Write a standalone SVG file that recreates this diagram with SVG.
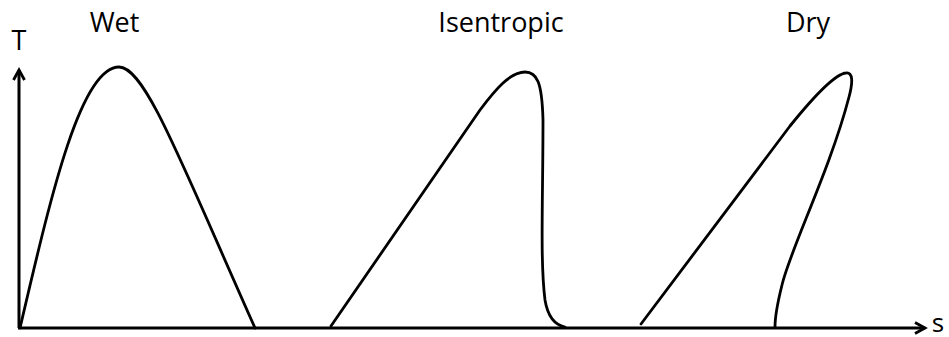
<svg xmlns="http://www.w3.org/2000/svg" width="949" height="337" viewBox="0 0 949 337">
  <defs>
    <style>
      .lbl { font-family: "Open Sans", "Liberation Sans", sans-serif; font-size: 27px; fill: #000; text-anchor: middle; }
      .axis { fill: none; stroke: #000; stroke-width: 3; }
      .curve { fill: none; stroke: #000; stroke-width: 2.8; stroke-linejoin: round; stroke-linecap: round; }
    </style>
    <marker id="arrow" viewBox="0 0 14 14" refX="11" refY="7" markerWidth="14" markerHeight="14" markerUnits="userSpaceOnUse" orient="auto">
      <path d="M1,1.5 L11,7 L1,12.5" fill="none" stroke="#000" stroke-width="2.8" stroke-linejoin="miter"/>
    </marker>
  </defs>
  <rect width="949" height="337" fill="#fff"/>
  <g id="axes">
    <line class="axis" x1="19" y1="328" x2="19" y2="70" marker-end="url(#arrow)"/>
    <line class="axis" x1="18" y1="328" x2="925" y2="328" marker-end="url(#arrow)"/>
    <text class="lbl" x="19" y="50">T</text>
    <text class="lbl" x="938" y="332" style="font-size:26px">s</text>
  </g>
  <g id="wet">
    <path class="curve" d="M20,328 C50,200 80,67 119,67 C145,67 180,160 255,328"/>
    <text class="lbl" x="114.5" y="32">Wet</text>
  </g>
  <g id="isentropic">
    <path class="curve" d="M331,326 L480,110 C495,90 510,72 525,72 C537,72 542,82 543,120 C543,200 540,260 545,300 C548,318 555,325 565,327"/>
    <text class="lbl" x="501" y="32">Isentropic</text>
  </g>
  <g id="dry">
    <path class="curve" d="M641,324 L790,126 C815,95 835,74 846,73 C853,72 853,82 849,97 C830,170 790,250 782,285 C777,305 775,318 775,327"/>
    <text class="lbl" x="808" y="32">Dry</text>
  </g>
</svg>
